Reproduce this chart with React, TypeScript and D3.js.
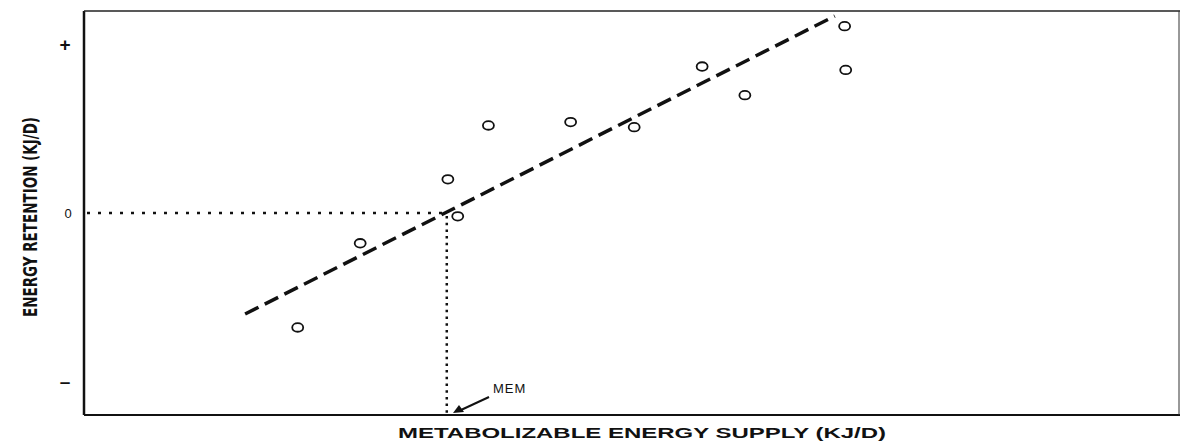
import React from "react";
import * as d3 from "d3";

const supplyX = [19.5, 25.2, 33.2, 34.1, 36.9, 44.4, 50.2, 56.4, 60.3, 69.4, 69.5];
const retentionY = [-0.68, -0.18, 0.2, -0.02, 0.52, 0.54, 0.51, 0.87, 0.7, 1.11, 0.85];
const fitX = [14.7, 68.5];
const fitY = [-0.6, 1.17];
const memX = 33.1;
const yTickValues = [1, 0, -1];
const yTickLabels = ["+", "0", "\u2013"];

const W = 1181;
const H = 443;
const left = 84, right = 1180, top = 11, bottom = 415;

export default function App() {
  const x = d3.scaleLinear().domain([0, 100]).range([left, right]);
  const y = d3.scaleLinear().domain([-1.2, 1.2]).range([bottom, top]);
  const line = d3.line<number>().x((_, i) => x(fitX[i])).y((d) => y(d));
  return (
    <svg width={W} height={H} style={{ position: "absolute", left: 0, top: 0, background: "#fff" }}>
      <rect x={0} y={0} width={W} height={H} fill="#fff" />
      {/* frame */}
      <line x1={left} x2={left} y1={top} y2={bottom} stroke="#111" strokeWidth={2.5} />
      <line x1={left} x2={right} y1={bottom} y2={bottom} stroke="#111" strokeWidth={2} />
      <line x1={left} x2={right} y1={top} y2={top} stroke="#222" strokeWidth={1.3} />
      <line x1={right - 1} x2={right - 1} y1={top} y2={bottom} stroke="#333" strokeWidth={1} />
      {/* y tick labels */}
      {yTickValues.map((v, i) => (
        <text key={i} x={i === 1 ? 68 : 65} y={y(v)} dy="0.35em" textAnchor="middle"
          fontFamily="Liberation Sans, Arial, sans-serif" fontSize={i === 1 ? 13 : 19}
          fontWeight={i === 1 ? "normal" : "bold"} fill="#111">
          {yTickLabels[i]}
        </text>
      ))}
      {/* dotted guides */}
      <line x1={left + 3} x2={x(memX)} y1={y(0)} y2={y(0)} stroke="#111" strokeWidth={2.5}
        strokeDasharray="3,8" />
      <line x1={x(memX)} x2={x(memX)} y1={y(0) + 3} y2={bottom - 1} stroke="#111" strokeWidth={2.5}
        strokeDasharray="2.5,4.2" />
      {/* regression line */}
      <path d={line(fitY) || ""} fill="none" stroke="#111" strokeWidth={3.5} strokeDasharray="15,7" />
      {/* points */}
      {supplyX.map((v, i) => (
        <ellipse key={i} cx={x(v)} cy={y(retentionY[i])} rx={5.5} ry={4.3} fill="#fff" stroke="#111" strokeWidth={1.8} />
      ))}
      {/* MEM label + arrow */}
      <text x={493} y={393} fontFamily="Liberation Sans, Arial, sans-serif" fontSize={13}
        letterSpacing={1} fill="#111">MEM</text>
      <line x1={489} x2={461} y1={397} y2={410} stroke="#111" strokeWidth={2} />
      <path d="M453,413 L459,405 L464,412 Z" fill="#111" />
      {/* axis titles */}
      <text x={642} y={438} textAnchor="middle" fontFamily="Liberation Sans, Arial, sans-serif"
        fontWeight="bold" fontSize={14} fill="#111" textLength={488} lengthAdjust="spacingAndGlyphs">
        METABOLIZABLE ENERGY SUPPLY (KJ/D)
      </text>
      <text transform={`translate(37,217) rotate(-90)`} textAnchor="middle"
        fontFamily="DejaVu Sans Condensed, Liberation Sans Narrow, sans-serif" fontWeight="bold"
        fontSize={19} fill="#111" textLength={200} lengthAdjust="spacingAndGlyphs">
        ENERGY RETENTION (KJ/D)
      </text>
    </svg>
  );
}
